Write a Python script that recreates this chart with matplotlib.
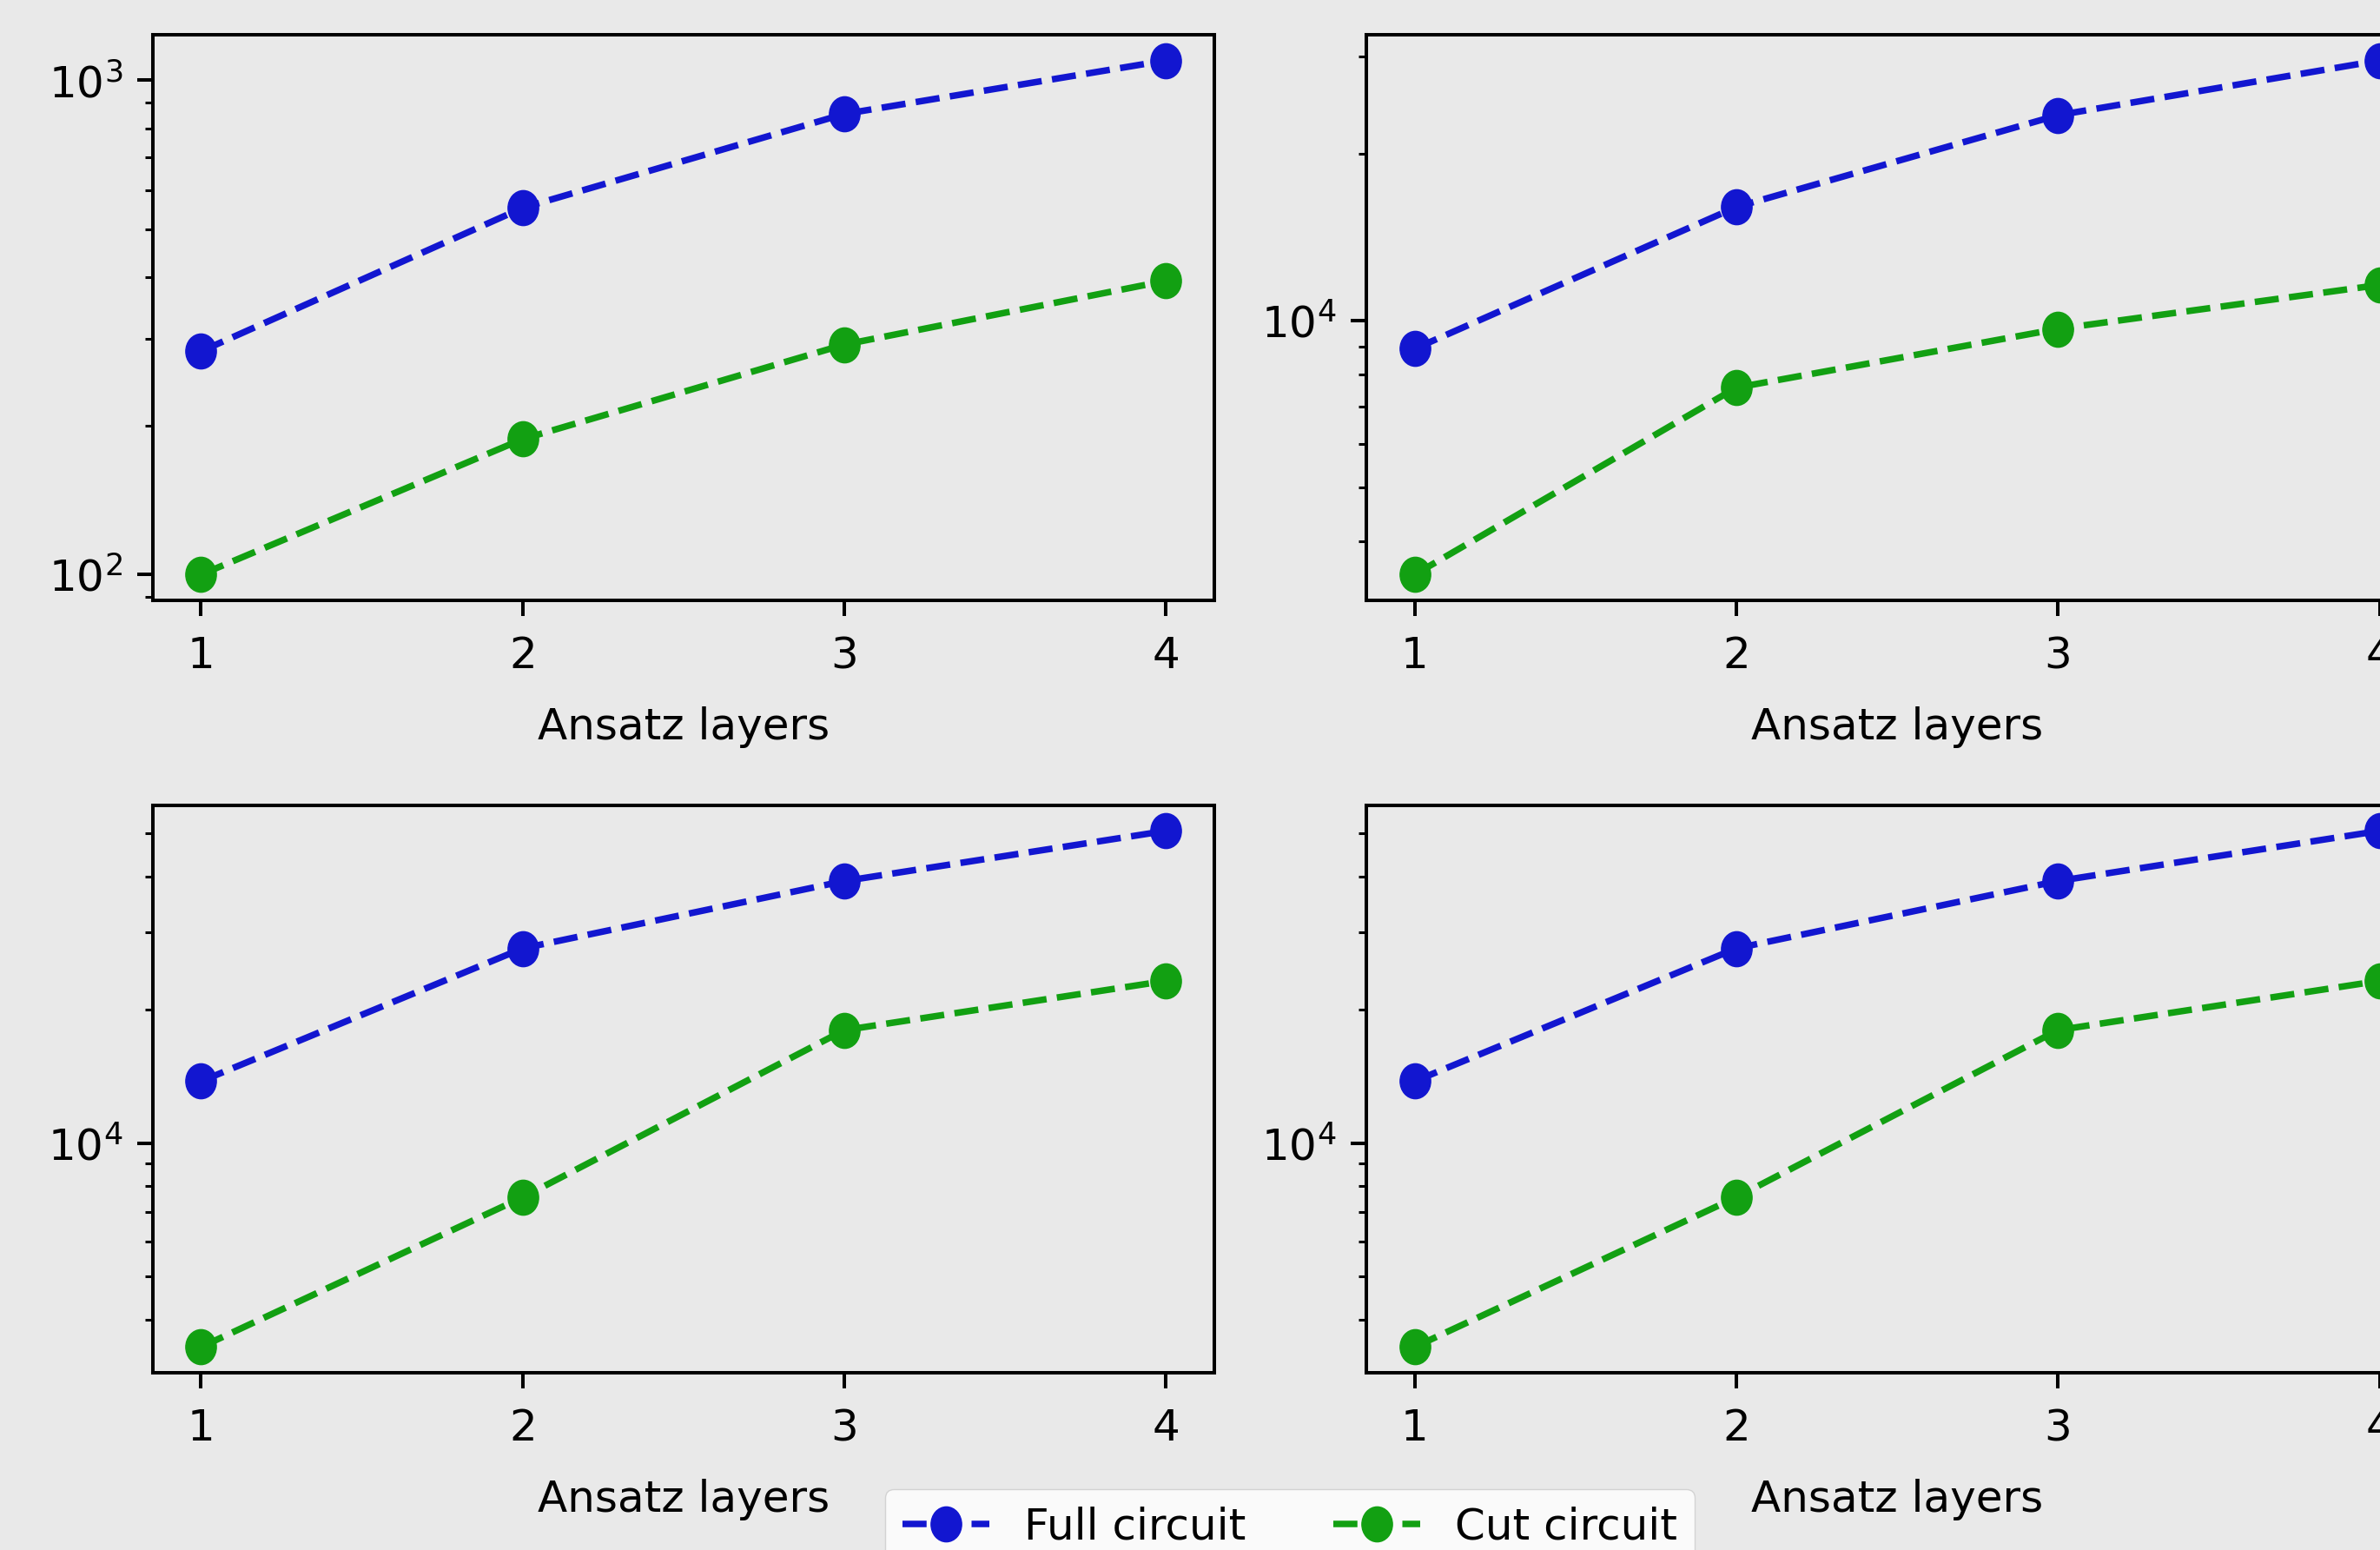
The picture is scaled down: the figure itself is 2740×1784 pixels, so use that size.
import matplotlib
matplotlib.use('Agg')
import matplotlib.pyplot as plt
import numpy as np
from matplotlib.path import Path
from matplotlib.ticker import NullFormatter

layers = [1, 2, 3, 4]

# panel values (log y)
full_tl = [283, 552, 855, 1097]
cut_tl = [100, 188, 292, 393]
full_tr = [8905, 16050, 23510, 29520]
cut_tr = [3484, 7577, 9674, 11612]
full_bl = [13800, 27530, 39070, 50700]
cut_bl = [3467, 7549, 18000, 23250]
full_br = [13800, 27530, 39070, 50700]
cut_br = [3467, 7549, 18000, 23250]

labels = ['Full circuit', 'Cut circuit']
blue = '#1216d0'
green = '#12a012'
bg = '#e9e9e9'

plt.rcParams['font.family'] = 'DejaVu Sans'
plt.rcParams['font.size'] = 36

# markers in the picture are a bit taller than wide
circ = Path.unit_circle()
oval = Path(circ.vertices * np.array([0.875, 1.0]), circ.codes)


def drawPanel(ax, full, cut):
    ax.set_facecolor(bg)
    l1, = ax.plot(layers, full, '--', color=blue, marker=oval, markersize=29, lw=5.4)
    l2, = ax.plot(layers, cut, '--', color=green, marker=oval, markersize=29, lw=5.4)
    ax.set_yscale('log')
    ax.yaxis.set_minor_formatter(NullFormatter())
    ax.set_xticks(layers)
    ax.set_xlabel('Ansatz layers', labelpad=24)
    for s in ax.spines.values():
        s.set_linewidth(2.9)
    ax.tick_params(which='major', length=13, width=2.9, pad=12)
    ax.tick_params(axis='x', which='major', pad=16)
    ax.tick_params(which='minor', length=6.5, width=2.2)
    return l1, l2


fig = plt.figure(figsize=(27.4, 17.84), dpi=100, facecolor=bg)
w, h1, h2 = 0.446, 0.3649, 0.3663
ax_tl = fig.add_axes([0.0642, 0.6127, w, h1])
ax_tr = fig.add_axes([0.5741, 0.6127, w, h1])
ax_bl = fig.add_axes([0.0642, 0.1143, w, h2])
ax_br = fig.add_axes([0.5741, 0.1143, w, h2])

lines = drawPanel(ax_tl, full_tl, cut_tl)
drawPanel(ax_tr, full_tr, cut_tr)
drawPanel(ax_bl, full_bl, cut_bl)
drawPanel(ax_br, full_br, cut_br)

fig.legend(lines, labels, loc='upper center', ncol=2, borderaxespad=0,
           bbox_to_anchor=(0.542, 0.0395), facecolor='white', framealpha=0.8)

fig.savefig('out.png', dpi=100, facecolor=bg)
